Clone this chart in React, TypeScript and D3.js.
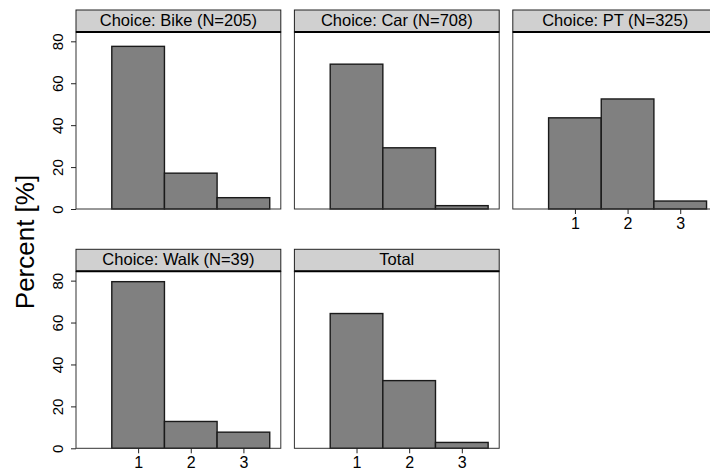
import React from 'react';
import * as d3 from 'd3';

// panel titles (strip labels)
const panelTitles = [
  'Choice: Bike (N=205)',
  'Choice: Car (N=708)',
  'Choice: PT (N=325)',
  'Choice: Walk (N=39)',
  'Total'
];
const categories = [1, 2, 3];
const yTicks = [0, 20, 40, 60, 80];

// percent per category
const bikePct = [77.6, 17.1, 5.4];
const carPct = [69.1, 29.2, 1.6];
const ptPct = [43.5, 52.5, 3.8];
const walkPct = [79.5, 12.8, 7.7];
const totalPct = [64.3, 32.3, 2.8];

const panelValues = [bikePct, carPct, ptPct, walkPct, totalPct];

const FONT = "'Liberation Sans', Arial, Helvetica, sans-serif";

class App extends React.Component {
  myDiv: React.RefObject<HTMLDivElement | null>;

  constructor(props: any) {
    super(props);
    this.myDiv = React.createRef();
  }

  componentDidMount() {
    const root = d3.select(this.myDiv.current);
    root.selectAll('*').remove();

    const width = 710;
    const height = 472;

    const colX = [76, 294.4, 512.8];
    const rowY = [10, 249.3];
    const panelW = 204.8;
    const stripH = 22;
    const plotH = 177;

    const x = d3.scaleLinear().domain([-0.18, 3.71]).range([0, panelW]);
    const y = d3.scaleLinear().domain([0, 84.45]).range([plotH, 0]);

    const svg = root.append('svg')
      .attr('width', width)
      .attr('height', height)
      .style('position', 'absolute')
      .style('left', '0px')
      .style('top', '0px')
      .style('font-family', FONT);

    svg.append('rect').attr('width', width).attr('height', height).attr('fill', '#fff');

    panelValues.forEach((vals, i) => {
      const col = i % 3;
      const row = Math.floor(i / 3);
      const g = svg.append('g')
        .attr('transform', `translate(${colX[col]}, ${rowY[row]})`);

      const plot = g.append('g').attr('transform', `translate(0, ${stripH})`);

      plot.append('rect')
        .attr('width', panelW)
        .attr('height', plotH)
        .attr('fill', '#fff');

      plot.selectAll('rect.bar')
        .data(vals)
        .enter().append('rect')
        .attr('class', 'bar')
        .attr('x', (d, k) => x(categories[k] - 0.5))
        .attr('width', (d, k) => x(categories[k] + 0.5) - x(categories[k] - 0.5))
        .attr('y', d => y(d))
        .attr('height', d => y(0) - y(d))
        .attr('fill', '#808080')
        .attr('stroke', '#1a1a1a')
        .attr('stroke-width', 1.4);

      plot.append('rect')
        .attr('width', panelW)
        .attr('height', plotH)
        .attr('fill', 'none')
        .attr('stroke', '#333')
        .attr('stroke-width', 1);

      // strip
      g.append('rect')
        .attr('width', panelW)
        .attr('height', stripH)
        .attr('fill', '#d0d0d0')
        .attr('stroke', '#222')
        .attr('stroke-width', 1);
      g.append('line')
        .attr('x1', 0).attr('x2', panelW)
        .attr('y1', stripH).attr('y2', stripH)
        .attr('stroke', '#000')
        .attr('stroke-width', 2);
      g.append('text')
        .attr('x', panelW / 2)
        .attr('y', 16)
        .attr('text-anchor', 'middle')
        .attr('font-size', 16.5)
        .attr('fill', '#000')
        .text(panelTitles[i]);

      // y axis on first column
      if (col === 0) {
        const yAxisCall = d3.axisLeft(y).tickValues(yTicks).tickSize(5).tickFormat(d3.format('d'));
        const ya = plot.append('g')
          .attr('color', '#222')
          .call(yAxisCall);
        ya.select('.domain').remove();
        ya.selectAll('text')
          .attr('x', 0)
          .attr('dy', null)
          .attr('text-anchor', 'middle')
          .attr('transform', 'translate(-13,0) rotate(-90)')
          .attr('font-size', 15)
          .attr('font-family', FONT)
          .attr('fill', '#000');
      }

      // x axis on the lowest panel of each column
      const lowest = (row === 1) || (col === 2);
      if (lowest) {
        const xAxisCall = d3.axisBottom(x).tickValues(categories).tickSize(5).tickFormat(d3.format('d'));
        const xa = plot.append('g')
          .attr('transform', `translate(0, ${plotH})`)
          .attr('color', '#222')
          .call(xAxisCall);
        xa.select('.domain').remove();
        xa.selectAll('text')
          .attr('y', 19.5)
          .attr('dy', null)
          .attr('font-size', 16)
          .attr('font-family', FONT)
          .attr('fill', '#000');
      }
    });

    svg.append('text')
      .attr('transform', 'translate(34, 242) rotate(-90)')
      .attr('text-anchor', 'middle')
      .attr('font-size', 26)
      .attr('fill', '#000')
      .text('Percent [%]');
  }

  render() {
    return <div ref={this.myDiv}></div>;
  }
}

export default App;
